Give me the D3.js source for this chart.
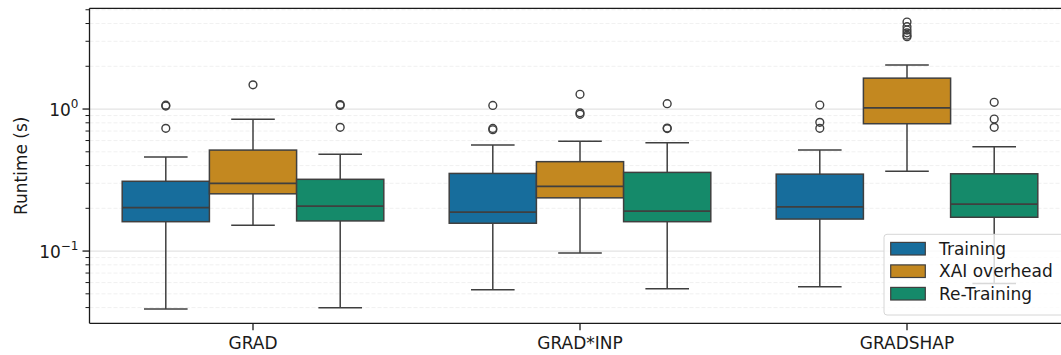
<!DOCTYPE html>
<html>
<head>
<meta charset="utf-8">
<script src="https://cdn.jsdelivr.net/npm/d3@7"></script>
<style>
  body { margin: 0; background: #fff; }
  svg { display: block; font-family: "DejaVu Sans", sans-serif; }
</style>
</head>
<body>
<svg id="chart" width="1061" height="355"></svg>
<script>
// categories and series
var methods = ['GRAD', 'GRAD*INP', 'GRADSHAP'];
var series = ['Training', 'XAI overhead', 'Re-Training'];
var colors = ['#176d9c', '#c38820', '#158a6a'];

// box stats per series, one entry per method: [whiskerLow, q1, median, q3, whiskerHigh]
var trainingStats = [
    [0.0391, 0.161, 0.202, 0.310, 0.459],
    [0.0534, 0.157, 0.188, 0.352, 0.558],
    [0.0561, 0.168, 0.205, 0.348, 0.514]
];
var xaiStats = [
    [0.152, 0.253, 0.300, 0.514, 0.846],
    [0.0968, 0.237, 0.285, 0.426, 0.593],
    [0.364, 0.788, 1.02, 1.65, 2.04]
];
var retrainingStats = [
    [0.0399, 0.163, 0.207, 0.320, 0.480],
    [0.0542, 0.161, 0.191, 0.358, 0.579],
    [0.0592, 0.173, 0.214, 0.350, 0.543]
];

// outliers per series, one list per method
var trainingFliers = [[1.05, 1.065, 0.731], [1.06, 0.73, 0.715], [1.067, 0.806, 0.731]];
var xaiFliers = [[1.48], [1.27, 0.94, 0.918], [4.10, 3.80, 3.60, 3.44, 3.31, 3.23]];
var retrainingFliers = [[1.06, 1.075, 0.743], [1.09, 0.735, 0.728], [1.115, 0.851, 0.743]];

// y ticks
var majorTicks = [0.1, 1];
var majorLabels = [['10', '\u22121'], ['10', '0']];

var allStats = [trainingStats, xaiStats, retrainingStats];
var allFliers = [trainingFliers, xaiFliers, retrainingFliers];

var margin = { top: 8.3, left: 89.5 };
var plotBottom = 323.3;
var plotRight = 1070.5;
var lineColor = '#3f3f3f';
var fontSize = 17;

var svg = d3.select('#chart');

var x = d3.scaleBand().domain(methods).range([margin.left, plotRight]).padding(0);
var bw = x.bandwidth();
var hue = d3.scaleBand().domain(series).range([0.1 * bw, 0.9 * bw]).padding(0);
var y = d3.scaleLog().domain([0.031, 5.12]).range([plotBottom, margin.top]);

// minor tick values inside the domain
var minorTicks = [];
[0.01, 0.1, 1].forEach(function (dec) {
    for (var k = 2; k <= 9; k++) {
        var v = k * dec;
        if (v >= y.domain()[0] && v <= y.domain()[1]) minorTicks.push(v);
    }
});

// grid
var grid = svg.append('g').attr('class', 'grid');
grid.selectAll('.minor')
    .data(minorTicks)
    .enter().append('line')
    .attr('x1', margin.left).attr('x2', plotRight)
    .attr('y1', function (d) { return y(d); })
    .attr('y2', function (d) { return y(d); })
    .attr('stroke', '#ececec')
    .attr('stroke-width', 0.8)
    .attr('stroke-dasharray', '4,2');
grid.selectAll('.major')
    .data(majorTicks)
    .enter().append('line')
    .attr('x1', margin.left).attr('x2', plotRight)
    .attr('y1', function (d) { return y(d); })
    .attr('y2', function (d) { return y(d); })
    .attr('stroke', '#e3e3e3')
    .attr('stroke-width', 1.3);

// boxes
var boxes = svg.append('g').attr('class', 'boxes');
series.forEach(function (s, si) {
    methods.forEach(function (m, mi) {
        var st = allStats[si][mi];
        var x0 = x(m) + hue(s);
        var w = hue.bandwidth();
        var cx = x0 + w / 2;
        var g = boxes.append('g');

        g.append('line')
            .attr('x1', cx).attr('x2', cx)
            .attr('y1', y(st[0])).attr('y2', y(st[1]))
            .attr('stroke', lineColor).attr('stroke-width', 1.5);
        g.append('line')
            .attr('x1', cx).attr('x2', cx)
            .attr('y1', y(st[3])).attr('y2', y(st[4]))
            .attr('stroke', lineColor).attr('stroke-width', 1.5);
        [st[0], st[4]].forEach(function (v) {
            g.append('line')
                .attr('x1', cx - w / 4).attr('x2', cx + w / 4)
                .attr('y1', y(v)).attr('y2', y(v))
                .attr('stroke', lineColor).attr('stroke-width', 1.5);
        });
        g.append('rect')
            .attr('x', x0).attr('width', w)
            .attr('y', y(st[3])).attr('height', y(st[1]) - y(st[3]))
            .attr('fill', colors[si])
            .attr('stroke', lineColor).attr('stroke-width', 1.5);
        g.append('line')
            .attr('x1', x0).attr('x2', x0 + w)
            .attr('y1', y(st[2])).attr('y2', y(st[2]))
            .attr('stroke', lineColor).attr('stroke-width', 1.8);

        g.selectAll('circle')
            .data(allFliers[si][mi])
            .enter().append('circle')
            .attr('cx', cx)
            .attr('cy', function (d) { return y(d); })
            .attr('r', 3.9)
            .attr('fill', 'none')
            .attr('stroke', lineColor)
            .attr('stroke-width', 1.4);
    });
});

// axes
var axes = svg.append('g').attr('class', 'axes');
axes.append('line')
    .attr('x1', margin.left).attr('x2', margin.left)
    .attr('y1', margin.top).attr('y2', plotBottom)
    .attr('stroke', '#1a1a1a').attr('stroke-width', 1.3);
axes.append('line')
    .attr('x1', margin.left).attr('x2', plotRight)
    .attr('y1', plotBottom).attr('y2', plotBottom)
    .attr('stroke', '#1a1a1a').attr('stroke-width', 1.3);
axes.append('line')
    .attr('x1', margin.left).attr('x2', plotRight)
    .attr('y1', margin.top).attr('y2', margin.top)
    .attr('stroke', '#1a1a1a').attr('stroke-width', 1.3);

axes.selectAll('.minortick')
    .data(minorTicks)
    .enter().append('line')
    .attr('x1', margin.left - 4).attr('x2', margin.left)
    .attr('y1', function (d) { return y(d); })
    .attr('y2', function (d) { return y(d); })
    .attr('stroke', '#1a1a1a').attr('stroke-width', 1);

majorTicks.forEach(function (t, i) {
    axes.append('line')
        .attr('x1', margin.left - 7).attr('x2', margin.left)
        .attr('y1', y(t)).attr('y2', y(t))
        .attr('stroke', '#1a1a1a').attr('stroke-width', 1.3);
    var txt = axes.append('text')
        .attr('x', margin.left - 11)
        .attr('y', y(t) + 6.5)
        .attr('text-anchor', 'end')
        .attr('font-size', fontSize)
        .attr('fill', '#1a1a1a');
    txt.append('tspan').text(majorLabels[i][0]);
    txt.append('tspan')
        .attr('dy', -7.5)
        .attr('font-size', 12)
        .text(majorLabels[i][1]);
});

methods.forEach(function (m) {
    var cx = x(m) + bw / 2;
    axes.append('line')
        .attr('x1', cx).attr('x2', cx)
        .attr('y1', plotBottom).attr('y2', plotBottom + 7)
        .attr('stroke', '#1a1a1a').attr('stroke-width', 1.3);
    axes.append('text')
        .attr('x', cx)
        .attr('y', 349)
        .attr('text-anchor', 'middle')
        .attr('font-size', fontSize)
        .attr('fill', '#1a1a1a')
        .text(m);
});

axes.append('text')
    .attr('transform', 'translate(27,' + ((margin.top + plotBottom) / 2) + ') rotate(-90)')
    .attr('text-anchor', 'middle')
    .attr('font-size', fontSize)
    .attr('fill', '#1a1a1a')
    .text('Runtime (s)');

// legend
var legend = svg.append('g').attr('transform', 'translate(884,234.3)');
legend.append('rect')
    .attr('width', 200).attr('height', 80.7)
    .attr('rx', 3)
    .attr('fill', 'rgba(255,255,255,0.8)')
    .attr('stroke', '#d6d6d6')
    .attr('stroke-width', 1);
series.forEach(function (s, i) {
    var row = legend.append('g').attr('transform', 'translate(0,' + (14.4 + i * 22.5) + ')');
    row.append('rect')
        .attr('x', 6.7).attr('y', -6.3)
        .attr('width', 34.6).attr('height', 12.6)
        .attr('fill', colors[i])
        .attr('stroke', lineColor).attr('stroke-width', 1.2);
    row.append('text')
        .attr('x', 55)
        .attr('y', 6)
        .attr('font-size', fontSize)
        .attr('fill', '#1a1a1a')
        .text(s);
});
</script>
</body>
</html>
